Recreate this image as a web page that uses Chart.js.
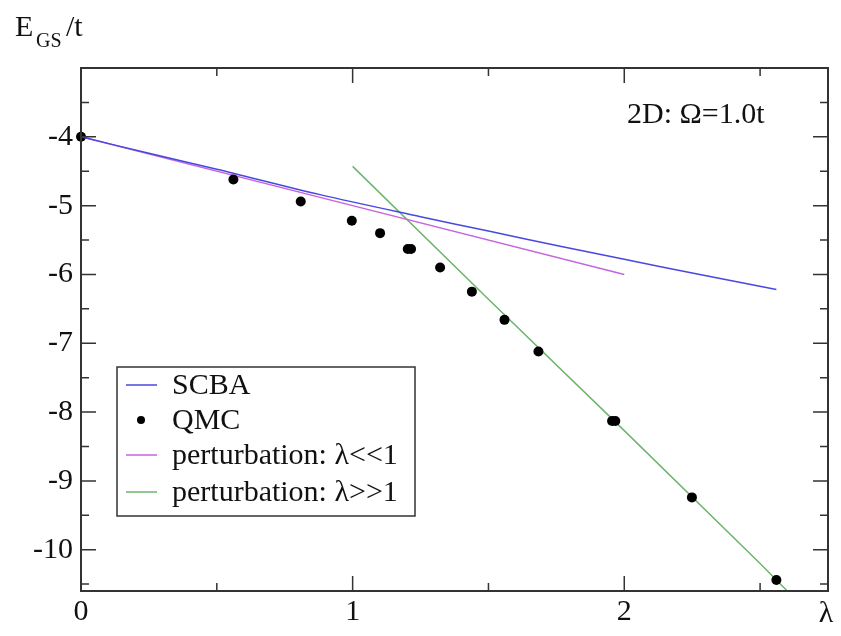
<!DOCTYPE html>
<html>
<head>
<meta charset="utf-8">
<script src="https://cdn.jsdelivr.net/npm/chart.js@4"></script>
<style>
  html, body { margin: 0; padding: 0; background: #fff; }
  #wrap { width: 841px; height: 636px; }
</style>
</head>
<body>
<div id="wrap"><canvas id="chart" width="841" height="636"></canvas></div>
<script>
// values
const lambdaSCBA = [0, 0.25, 0.5, 0.88, 1.25, 1.5, 1.764, 2.0, 2.25, 2.56];
const energySCBA = [-4.0, -4.24, -4.47, -4.84, -5.16, -5.37, -5.59, -5.78, -5.98, -6.22];

const lambdaQMC = [0, 0.561, 0.809, 0.997, 1.101, 1.203, 1.215, 1.322, 1.439, 1.559, 1.684, 1.955, 1.967, 2.249, 2.56];
const energyQMC = [-4.0, -4.62, -4.94, -5.22, -5.40, -5.63, -5.63, -5.90, -6.25, -6.66, -7.12, -8.13, -8.13, -9.24, -10.44];

const lambdaWeak = [0, 1, 2];
const energyWeak = [-4.0, -5.0, -6.0];

const lambdaStrong = [1.0, 1.5, 2.0, 2.5, 2.6];
const energyStrong = [-4.43, -6.36, -8.27, -10.2, -10.6];

const xTicks = [0, 1, 2];
const xMinor = [0.5, 1.5, 2.5];
const yTicks = [-10, -9, -8, -7, -6, -5, -4];
const yMinor = [-10.5, -9.5, -8.5, -7.5, -6.5, -5.5, -4.5, -3.5];

const seriesNames = ['SCBA', 'QMC', 'perturbation: \u03bb<<1', 'perturbation: \u03bb>>1'];

const serif = '"Liberation Serif", "Times New Roman", serif';

function pts(xs, ys) {
  return xs.map((x, i) => ({ x: x, y: ys[i] }));
}

// frame, inward ticks, legend box and free text
const decor = {
  id: 'decor',
  afterDraw(chart) {
    const ctx = chart.ctx;
    const a = chart.chartArea;
    const sx = chart.scales.x, sy = chart.scales.y;
    ctx.save();
    ctx.strokeStyle = '#333';
    ctx.lineWidth = 2;
    ctx.strokeRect(a.left, a.top, a.right - a.left, a.bottom - a.top);

    ctx.lineWidth = 1.5;
    ctx.beginPath();
    const tick = (v, len, horiz) => {
      if (horiz) {
        const p = sx.getPixelForValue(v);
        ctx.moveTo(p, a.bottom); ctx.lineTo(p, a.bottom - len);
        ctx.moveTo(p, a.top); ctx.lineTo(p, a.top + len);
      } else {
        const p = sy.getPixelForValue(v);
        ctx.moveTo(a.left, p); ctx.lineTo(a.left + len, p);
        ctx.moveTo(a.right, p); ctx.lineTo(a.right - len, p);
      }
    };
    xTicks.forEach(v => tick(v, 15, true));
    xMinor.forEach(v => tick(v, 8, true));
    yTicks.forEach(v => tick(v, 15, false));
    yMinor.forEach(v => tick(v, 8, false));
    ctx.stroke();

    // legend
    const bx = 117, by = 367, bw = 298, bh = 149;
    ctx.fillStyle = '#fff';
    ctx.fillRect(bx, by, bw, bh);
    ctx.strokeStyle = '#333';
    ctx.lineWidth = 1.5;
    ctx.strokeRect(bx, by, bw, bh);
    const rows = [385, 420, 455, 492];
    ctx.font = '30px ' + serif;
    ctx.textBaseline = 'middle';
    ctx.textAlign = 'left';
    chart.data.datasets.forEach((ds, i) => {
      const ry = rows[i];
      if (ds.showLine) {
        ctx.strokeStyle = ds.borderColor;
        ctx.lineWidth = 1.5;
        ctx.beginPath();
        ctx.moveTo(126, ry); ctx.lineTo(157, ry);
        ctx.stroke();
      } else {
        ctx.fillStyle = '#000';
        ctx.beginPath();
        ctx.arc(141, ry, 4, 0, Math.PI * 2);
        ctx.fill();
      }
      ctx.fillStyle = '#111';
      ctx.fillText(ds.label, 172, ry + 1);
    });

    // annotation and axis titles
    ctx.fillStyle = '#111';
    ctx.textBaseline = 'alphabetic';
    ctx.font = '30px ' + serif;
    ctx.fillText('2D: \u03a9=1.0t', 627, 123);
    ctx.fillText('E', 15, 36);
    ctx.font = '20px ' + serif;
    ctx.fillText('GS', 36, 47);
    ctx.font = '30px ' + serif;
    ctx.fillText('/t', 66, 36);
    ctx.textAlign = 'center';
    ctx.fillText('\u03bb', 826, 622);
    ctx.restore();
  }
};

new Chart(document.getElementById('chart'), {
  type: 'scatter',
  data: {
    datasets: [
      {
        label: seriesNames[0],
        data: pts(lambdaSCBA, energySCBA),
        showLine: true,
        borderColor: 'rgb(72,72,225)',
        borderWidth: 1.5,
        pointRadius: 0,
        tension: 0.3
      },
      {
        label: seriesNames[1],
        data: pts(lambdaQMC, energyQMC),
        showLine: false,
        backgroundColor: '#000',
        borderWidth: 0,
        pointRadius: 5,
        clip: false
      },
      {
        label: seriesNames[2],
        data: pts(lambdaWeak, energyWeak),
        showLine: true,
        borderColor: 'rgb(195,100,225)',
        borderWidth: 1.5,
        pointRadius: 0
      },
      {
        label: seriesNames[3],
        data: pts(lambdaStrong, energyStrong),
        showLine: true,
        borderColor: 'rgb(110,180,110)',
        borderWidth: 1.5,
        pointRadius: 0
      }
    ]
  },
  options: {
    responsive: false,
    animation: false,
    layout: { padding: { top: 68, right: 13, left: 0, bottom: 0 } },
    plugins: {
      legend: { display: false },
      tooltip: { enabled: false }
    },
    scales: {
      x: {
        type: 'linear',
        min: 0,
        max: 2.75,
        afterBuildTicks: s => { s.ticks = xTicks.map(v => ({ value: v })); },
        afterFit: s => { s.height = 45; },
        grid: { display: false, drawTicks: false },
        border: { display: false },
        ticks: {
          padding: 3,
          color: '#111',
          font: { family: serif, size: 30 },
          maxRotation: 0,
          callback: v => String(v)
        }
      },
      y: {
        type: 'linear',
        min: -10.6,
        max: -3,
        afterBuildTicks: s => { s.ticks = yTicks.map(v => ({ value: v })); },
        afterFit: s => { s.width = 81; },
        grid: { display: false, drawTicks: false },
        border: { display: false },
        ticks: {
          padding: 8,
          color: '#111',
          font: { family: serif, size: 30 },
          callback: v => String(v)
        }
      }
    }
  },
  plugins: [decor]
});
</script>
</body>
</html>
